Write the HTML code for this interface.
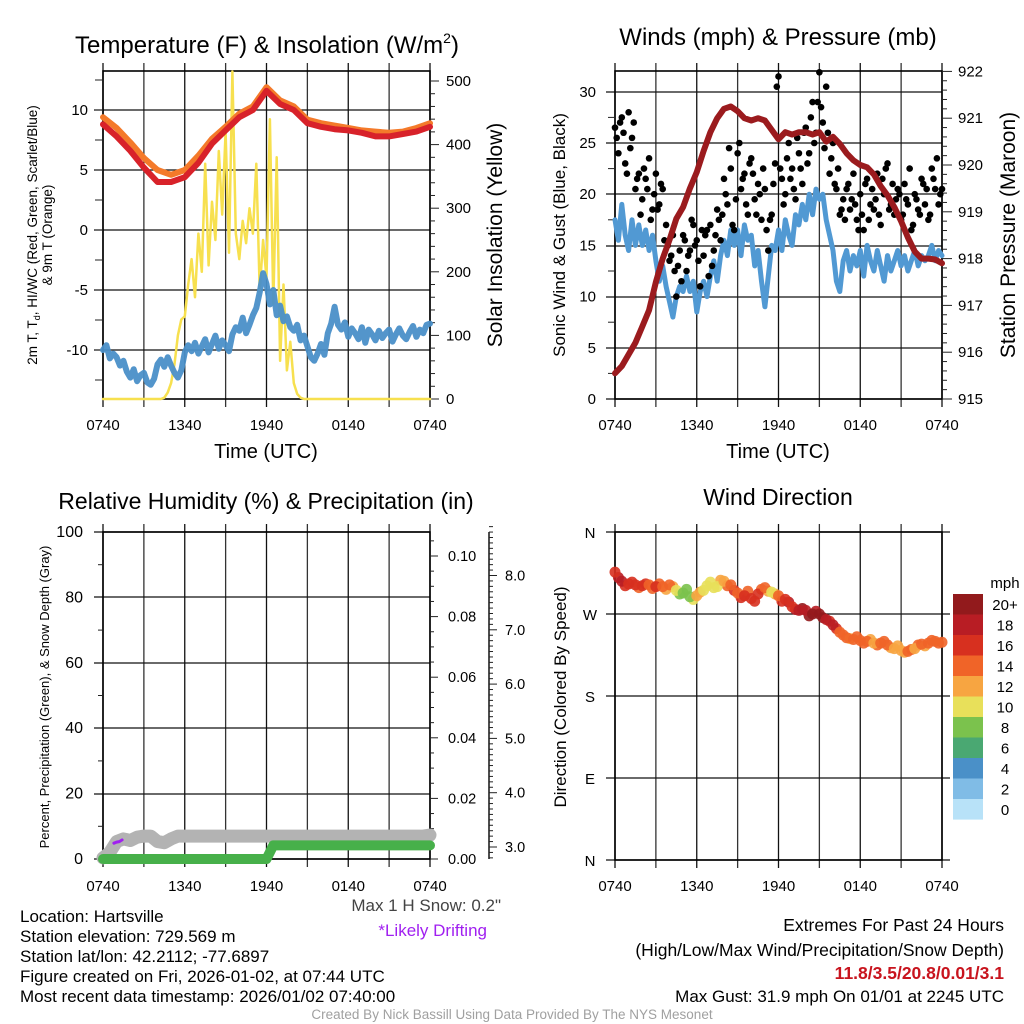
<!DOCTYPE html>
<html><head><meta charset="utf-8">
<style>
html,body{margin:0;padding:0;background:#fff;}
svg{display:block;font-family:"Liberation Sans",sans-serif;}
</style></head>
<body>
<svg id="fig" width="1024" height="1024" viewBox="0 0 1024 1024" xmlns="http://www.w3.org/2000/svg">
<rect width="1024" height="1024" fill="#fff"/>
<text x="267" y="53" font-size="24" text-anchor="middle">Temperature (F) &amp; Insolation (W/m<tspan font-size="14" dy="-10">2</tspan><tspan dy="10">)</tspan></text>
<text x="778" y="45" font-size="24" text-anchor="middle">Winds (mph) &amp; Pressure (mb)</text>
<text x="266" y="509" font-size="23" text-anchor="middle">Relative Humidity (%) &amp; Precipitation (in)</text>
<text x="778" y="505" font-size="23" text-anchor="middle">Wind Direction</text>

<text transform="translate(37,235) rotate(-90)" font-size="13.5" text-anchor="middle">2m T, T<tspan font-size="9" dy="3">d</tspan><tspan dy="-3">, HI/WC (Red, Green, Scarlet/Blue)</tspan></text>
<text transform="translate(52,235) rotate(-90)" font-size="13.5" text-anchor="middle">&amp; 9m T (Orange)</text>
<text transform="translate(502,235) rotate(-90)" font-size="21" text-anchor="middle">Solar Insolation (Yellow)</text>
<text x="266" y="458" font-size="20" text-anchor="middle">Time (UTC)</text>
<text transform="translate(565,235) rotate(-90)" font-size="17" text-anchor="middle">Sonic Wind &amp; Gust (Blue, Black)</text>
<text transform="translate(1015,235) rotate(-90)" font-size="21" text-anchor="middle">Station Pressure (Maroon)</text>
<text x="778" y="458" font-size="20" text-anchor="middle">Time (UTC)</text>
<text transform="translate(49,697) rotate(-90)" font-size="13" text-anchor="middle">Percent, Precipitation (Green), &amp; Snow Depth (Gray)</text>
<text transform="translate(566,697) rotate(-90)" font-size="17" text-anchor="middle">Direction (Colored By Speed)</text>
<text x="1005" y="588" font-size="15" text-anchor="middle">mph</text>

<g font-size="17">
<text x="20" y="922">Location: Hartsville</text>
<text x="20" y="942">Station elevation: 729.569 m</text>
<text x="20" y="962">Station lat/lon: 42.2112; -77.6897</text>
<text x="20" y="982">Figure created on Fri, 2026-01-02, at 07:44 UTC</text>
<text x="20" y="1002">Most recent data timestamp: 2026/01/02 07:40:00</text>
<text x="501" y="911" text-anchor="end" fill="#444">Max 1 H Snow: 0.2"</text>
<text x="487" y="936" text-anchor="end" fill="#a020f0">*Likely Drifting</text>
<text x="1004" y="931" text-anchor="end" font-size="17.5">Extremes For Past 24 Hours</text>
<text x="1004" y="956" text-anchor="end" font-size="17.5">(High/Low/Max Wind/Precipitation/Snow Depth)</text>
<text x="1004" y="979" text-anchor="end" font-size="17.5" font-weight="bold" fill="#c8141e">11.8/3.5/20.8/0.01/3.1</text>
<text x="1004" y="1002" text-anchor="end" font-size="17">Max Gust: 31.9 mph On 01/01 at 2245 UTC</text>
<text x="512" y="1019" text-anchor="middle" font-size="13.5" fill="#a0a0a0">Created By Nick Bassill Using Data Provided By The NYS Mesonet</text>
</g>
</svg>
<script>
// ---------- data ----------
var xTickLabels = ["0740","1340","1940","0140","0740"];
var redTemp = [8.8,7.8,6.6,5.2,4.0,4.0,4.4,5.6,7.2,8.3,9.4,10.0,11.6,10.5,10.0,8.9,8.6,8.4,8.3,8.1,7.8,7.8,8.0,8.2,8.6];
var orangeTemp = [9.4,8.5,7.3,6.0,5.0,4.6,5.0,6.2,7.6,8.6,9.7,10.3,11.9,10.8,10.3,9.2,8.9,8.7,8.5,8.3,8.2,8.1,8.2,8.5,8.9];
var dewPoint = [-10.0,-9.6,-10.7,-10.3,-10.6,-11.3,-10.9,-11.8,-12.3,-11.6,-12.6,-12.1,-11.9,-12.7,-12.9,-12.4,-11.2,-10.8,-11.4,-10.6,-11.3,-11.9,-12.3,-11.7,-10.2,-9.6,-10.1,-9.4,-10.3,-9.7,-9.1,-10.2,-9.5,-8.8,-9.9,-9.2,-9.6,-10.1,-8.7,-8.1,-8.4,-7.3,-8.6,-7.9,-7.1,-6.5,-5.2,-3.6,-4.5,-6.2,-5.0,-7.1,-6.3,-7.6,-7.2,-8.1,-8.4,-7.9,-9.2,-8.8,-9.7,-10.6,-10.9,-10.3,-9.5,-10.4,-8.6,-7.8,-6.4,-7.9,-8.3,-7.7,-8.9,-8.2,-8.6,-9.1,-8.1,-9.4,-8.3,-8.7,-9.2,-8.4,-9.0,-8.6,-8.3,-9.3,-8.7,-8.2,-8.8,-9.1,-8.5,-8.0,-8.9,-8.3,-8.6,-7.9,-7.8];
var solar = [0,0,0,0,0,0,0,0,0,0,0,0,0,0,0,0,0,0,2,10,25,55,100,125,130,180,220,160,260,200,370,210,310,250,390,290,420,230,515,260,220,280,245,300,260,370,170,250,190,440,150,380,60,180,45,90,25,8,2,0,0,0,0,0,0,0,0,0,0,0,0,0,0,0,0,0,0,0,0,0,0,0,0,0,0,0,0,0,0,0,0,0,0,0,0,0,0];
var windSpeed = [17.5,15.5,19.0,16.0,14.5,17.5,15.0,17.0,15.0,16.5,14.5,16.0,13.5,11.5,13.0,11.0,9.5,8.0,10.0,11.0,10.5,12.0,10.5,11.5,8.5,10.5,11.5,10.0,12.0,13.5,11.5,14.0,15.5,14.0,16.5,15.0,16.5,14.0,17.0,15.5,16.0,13.0,14.5,11.5,9.0,12.0,15.0,14.5,16.5,14.5,17.5,16.0,15.0,18.0,17.0,19.0,17.5,20.0,18.0,20.5,19.5,20.0,17.5,16.0,14.5,11.5,10.5,13.5,14.5,12.5,14.0,13.0,14.5,12.0,15.0,13.5,12.5,14.5,13.0,11.5,14.0,12.5,13.5,14.5,13.0,14.0,12.5,13.5,14.5,13.0,14.0,13.5,14.0,15.0,13.5,14.5,14.0];
var windGust = [26.5,24.0,27.5,23.0,28.0,25.5,20.5,22.0,19.5,21.5,23.5,18.5,22.0,19.0,20.5,17.0,13.5,16.0,10.0,14.5,16.0,12.5,14.5,17.0,15.5,11.0,14.0,16.5,17.0,14.5,18.5,15.5,21.5,19.0,22.5,16.5,24.0,20.5,22.0,18.0,23.5,19.5,21.0,17.5,20.5,14.5,18.0,23.0,31.5,21.5,20.0,25.0,22.5,19.5,24.0,21.0,26.5,24.0,29.0,26.0,31.9,27.0,30.5,22.0,25.0,20.5,18.0,19.5,20.5,18.5,22.0,17.5,20.0,16.5,21.5,19.0,18.5,22.0,17.0,20.0,23.0,19.0,18.0,20.5,17.5,21.0,19.0,16.5,20.0,18.5,21.5,19.0,17.5,22.5,20.5,19.0,20.5];
var windGust2 = [25.5,27.0,26.0,22.0,24.5,27.0,21.5,18.0,22.5,20.5,17.5,20.0,18.5,21.0,15.5,15.0,14.0,12.5,13.0,11.5,15.5,14.0,17.5,15.0,13.5,16.5,16.0,12.0,13.0,16.0,17.5,18.0,20.0,24.5,17.0,19.5,25.0,21.5,19.0,23.0,22.0,18.0,20.0,22.5,16.5,17.5,21.0,30.5,22.5,19.0,23.5,21.5,20.5,25.5,22.5,26.0,23.0,27.5,25.0,29.0,28.5,24.5,26.0,23.5,21.0,22.5,18.5,17.5,21.0,19.5,19.0,16.5,18.0,21.0,17.5,20.5,19.5,18.0,21.5,22.5,18.5,21.0,19.5,20.0,18.0,19.5,22.5,17.0,19.5,18.0,21.0,20.5,18.0,21.5,23.5,20.0];
var pressure = [915.55,915.7,915.95,916.2,916.55,916.9,917.5,918.0,918.4,918.85,919.1,919.5,919.85,920.3,920.7,921.0,921.2,921.25,921.15,921.0,920.95,921.0,920.95,920.75,920.55,920.7,920.65,920.7,920.7,920.65,920.7,920.5,920.6,920.45,920.25,920.1,920.0,919.95,919.8,919.55,919.35,919.1,918.8,918.45,918.15,918.0,918.0,917.98,917.9];
var snowDepth = [2.8,2.9,3.1,3.15,3.12,3.18,3.2,3.2,3.1,3.08,3.15,3.2,3.2,3.2,3.2,3.2,3.2,3.2,3.2,3.2,3.2,3.2,3.2,3.2,3.2,3.2,3.2,3.2,3.2,3.2,3.2,3.2,3.2,3.2,3.2,3.2,3.2,3.2,3.2,3.2,3.2,3.2,3.2,3.2,3.2,3.2,3.2,3.2,3.22];
var precip = [0,0,0,0,0,0,0,0,0,0,0,0,0,0,0,0,0,0,0,0,0,0,0,0,0,0.0045,0.0045,0.0045,0.0045,0.0045,0.0045,0.0045,0.0045,0.0045,0.0045,0.0045,0.0045,0.0045,0.0045,0.0045,0.0045,0.0045,0.0045,0.0045,0.0045,0.0045,0.0045,0.0045,0.0045];
var driftTimes = [0.8,1.0,1.2,1.4];
var driftDepth = [3.07,3.09,3.1,3.13];
var windDir = [316,306,303,302,301,302,300,300,302,296,293,289,290,296,305,300,306,302,293,290,287,292,299,294,290,286,278,274,274,270,270,264,258,250,244,242,241,240,238,238,236,232,230,229,232,237,238,240,239];
var dirSpeed = [17,18,17,16,16,15,16,14,14,10,8,9,12,11,10,10,12,14,15,16,17,16,15,10,15,17,17,18,19,21,20,19,18,15,14,14,14,15,13,14,14,13,12,14,13,14,15,14,14];
var windDir2 = [310,301,305,299,303,298,303,297,300,292,297,286,294,301,299,307,301,296,288,295,284,297,295,292,284,283,275,276,268,273,266,262,254,247,243,245,238,242,236,240,233,235,228,231,236,235,241,238];
var dirSpeed2 = [18,17,16,15,17,14,15,13,12,8,9,10,12,10,11,13,15,16,17,15,16,14,12,13,16,18,19,20,21,19,20,17,16,14,13,15,14,12,14,15,13,12,13,14,15,13,14,15];
var cbLabels = ["20+","18","16","14","12","10","8","6","4","2","0"];
var cbColors = ["#921a1c","#b81d24","#d7301f","#f06428","#f7a541","#e8e05a","#7bc24d","#4aa872","#4a90c8","#80bce6","#b8e2f8"];

// ---------- helpers ----------
var NS = "http://www.w3.org/2000/svg";
var svg = document.getElementById("fig");
function el(tag, a, parent){ var e=document.createElementNS(NS,tag); for(var k in a){e.setAttribute(k,a[k]);} (parent||svg).appendChild(e); return e; }
var W = 327;
function xs(x0){ return function(t){ return x0 + t*W/24; }; }
var x1 = xs(103), x2 = xs(615);
var y1L = function(v){ return 230 - 12*v; };
var y1R = function(w){ return 399 - w*0.636; };
var y2W = function(v){ return 399 - v*10.24; };
var y2P = function(p){ return 399 - (p-915)*46.8; };
var y3Pct = function(v){ return 859 - v*3.27; };
var y3Pr = function(v){ return 859 - v*3030; };
var y3Sn = function(s){ return 847 - (s-3)*54.3; };
var y4D = function(d){ return 860 - d*0.9111; };
function spd(i,n){ return i*24/(n-1); }
function colorFor(s){ var i=Math.min(10,Math.max(0,10-Math.floor(s/2))); if(s>=20) i=0; return cbColors[i]; }

function frame(x0,yTop,yBot,hLines,labelY){
  var g = el("g",{});
  
  
  for(var i=0;i<=8;i++){
    var x = x0 + i*W/8;
    var ln = el("line",{x1:x,x2:x,y1:yTop-8,y2:yBot+8,stroke:(i%2?"#333":"#111"),"stroke-width":1.3},g);
    
    
  }
  for(var j=0;j<hLines.length;j++){
    var h = el("line",{x1:x0-9,x2:x0+W+(hLines[j][1]||0),y1:hLines[j][0],y2:hLines[j][0],stroke:"#111","stroke-width":1.3},g);
    
    
  }
  var r = el("rect",{x:x0,y:yTop,width:W,height:yBot-yTop,fill:"none",stroke:"#000","stroke-width":1.6},g);
  
  
  for(var k=0;k<xTickLabels.length;k++){
    var t = el("text",{x:x0+k*W/4,y:labelY,"font-size":15,"text-anchor":"middle"},g);
    t.textContent = xTickLabels[k];
    
    
  }
}
function poly(pts,stroke,width,name,opacity){
  var p = el("polyline",{points:pts.map(function(q){return q[0].toFixed(1)+","+q[1].toFixed(1);}).join(" "),fill:"none",stroke:stroke,"stroke-width":width,"stroke-linejoin":"round","stroke-linecap":"round"});
  if(opacity) p.setAttribute("stroke-opacity",opacity);
  
  
  return p;
}
function tickLabel(x,y,txt,anchor,size){
  var t = el("text",{x:x,y:y,"font-size":size||15,"text-anchor":anchor});
  t.textContent = txt;
  
  
}
function tick(x1_,y,x2_,name){
  var l = el("line",{x1:x1_,x2:x2_,y1:y,y2:y,stroke:"#222","stroke-width":1});
  
  
}

// ---------- panel 1 ----------
frame(103,71,399,[[110],[170],[230],[290],[350]],430);
for(var v=-12.5; v<=12.5; v+=2.5){ tick(95,y1L(v),103,'temp-minor-tick'); }
[10,5,0,-5,-10].forEach(function(v){ tickLabel(88,y1L(v)+5,String(v),"end"); });
for(var w=0; w<=500; w+=20){ tick(430, y1R(w), w%100===0?439:435,'solar-tick'); }
[0,100,200,300,400,500].forEach(function(w){ tickLabel(446,y1R(w)+5,String(w),"start"); });
poly(solar.map(function(v,i){return [x1(spd(i,solar.length)),y1R(v)];}),"#f7e04f",2.5,"solar-line");
poly(dewPoint.map(function(v,i){return [x1(spd(i,dewPoint.length)),y1L(v)];}),"#4a8fc8",6,"dewpoint-line",0.95);
poly(orangeTemp.map(function(v,i){return [x1(spd(i,orangeTemp.length)),y1L(v)];}),"#f47a2a",6,"9m-temperature-line");
poly(redTemp.map(function(v,i){return [x1(spd(i,redTemp.length)),y1L(v)];}),"#d8222a",6,"2m-temperature-line");

// ---------- panel 2 ----------
frame(615,71,399,[[92],[143],[194],[246],[297],[348],[399]],430);
for(var v2=2.5; v2<=32; v2+=5){ tick(608,y2W(v2),615,'wind-minor-tick'); }
[0,5,10,15,20,25,30].forEach(function(v){ tickLabel(596,y2W(v)+5,String(v),"end"); });
for(var p=915; p<=922.01; p+=0.2){ var major=Math.abs(p-Math.round(p))<0.01; tick(942,y2P(p),major?952:947,'pressure-tick'); }
[915,916,917,918,919,920,921,922].forEach(function(p){ tickLabel(958,y2P(p)+5,String(p),"start"); });
poly(windSpeed.map(function(v,i){return [x2(spd(i,windSpeed.length)),y2W(v)];}),"#5199d3",5,"sonic-wind-line");
for(var gi=0; gi<windGust.length; gi++){
  var c = el("circle",{cx:x2(spd(gi,windGust.length)),cy:y2W(windGust[gi]),r:3.3,fill:"#000"});
  
  
}
for(var gj=0; gj<windGust2.length; gj++){
  var c2 = el("circle",{cx:x2((gj+0.5)/4),cy:y2W(windGust2[gj]),r:3.3,fill:"#000"});
  
  
}
poly(pressure.map(function(v,i){return [x2(spd(i,pressure.length)),y2P(v)];}),"#9b1b1e",6,"pressure-line");

// ---------- panel 3 ----------
frame(103,532,859,[[532],[597],[663],[728],[794],[859]],891);
for(var q=10; q<=90; q+=20){ tick(98,y3Pct(q),103,'percent-minor-tick'); }
[0,20,40,60,80,100].forEach(function(v){ tickLabel(83,y3Pct(v)+5,String(v),"end",16); });
for(var pr=0; pr<=0.108; pr+=0.005){ var mj=Math.round(pr*1000)%20===0; tick(430,y3Pr(pr),mj?438:434,'precip-tick'); }
[0,0.02,0.04,0.06,0.08,0.10].forEach(function(v){ tickLabel(448,y3Pr(v)+5,v.toFixed(2),"start",14.5); });
var ax = el("line",{x1:489,x2:489,y1:532,y2:859,stroke:"#222","stroke-width":1.6});


for(var s=2.8; s<=8.9; s+=0.1){ var sm=Math.abs(s-Math.round(s))<0.01; tick(489,y3Sn(s),sm?497:493,'snow-tick'); }
[3,4,5,6,7,8].forEach(function(v){ tickLabel(505,y3Sn(v)+5,v.toFixed(1),"start",14.5); });
poly(snowDepth.map(function(v,i){return [x1(spd(i,snowDepth.length)),y3Sn(v)];}),"#b3b3b3",13,"snow-depth-line");
poly(precip.map(function(v,i){return [x1(spd(i,precip.length)),y3Pr(v)];}),"#47b04a",10,"precipitation-line");
poly(driftTimes.map(function(t,i){return [x1(t),y3Sn(driftDepth[i])];}),"#a020f0",3,"drifting-snow-line");

// ---------- panel 4 ----------
frame(615,532,860,[[532,8],[614,8],[696,8],[778,8],[860,8]],891);
[["N",360],["W",270],["S",180],["E",90],["N",0]].forEach(function(d){ tickLabel(590,y4D(d[1])+6,d[0],"middle",15); });
for(var dj=0; dj<windDir2.length; dj++){
  var dc2 = el("circle",{cx:x2((dj+0.5)/2),cy:y4D(windDir2[dj]),r:5.5,fill:colorFor(dirSpeed2[dj]),"fill-opacity":0.9});
  
  
}
for(var di=0; di<windDir.length; di++){
  var dc = el("circle",{cx:x2(spd(di,windDir.length)),cy:y4D(windDir[di]),r:5.5,fill:colorFor(dirSpeed[di]),"fill-opacity":0.9});
  
  
}
for(var ci=0; ci<cbColors.length; ci++){
  var cr = el("rect",{x:953,y:594+ci*20.5,width:30,height:20.6,fill:cbColors[ci]});
  
  
  var ct = el("text",{x:1005,y:610+ci*20.5,"font-size":15,"text-anchor":"middle"});
  ct.textContent = cbLabels[ci];
  
  
}
</script>
</body></html>
